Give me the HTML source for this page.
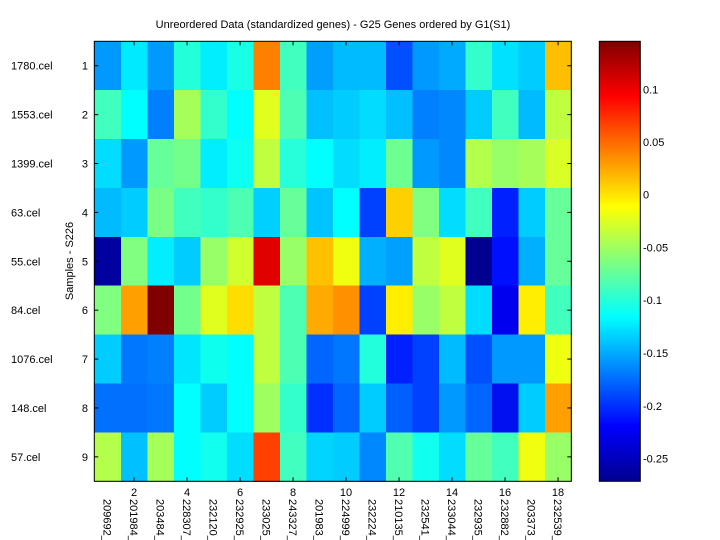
<!DOCTYPE html>
<html><head><meta charset="utf-8"><style>
html,body{margin:0;padding:0;background:#fff;}
svg{display:block;font-family:"Liberation Sans",sans-serif;}
</style></head><body>
<svg width="720" height="540" xmlns="http://www.w3.org/2000/svg">
<defs>
<linearGradient id="jet" x1="0" y1="1" x2="0" y2="0">
<stop offset="0" stop-color="#00008f"/>
<stop offset="0.125" stop-color="#0000ff"/>
<stop offset="0.375" stop-color="#00ffff"/>
<stop offset="0.625" stop-color="#ffff00"/>
<stop offset="0.875" stop-color="#ff0000"/>
<stop offset="1" stop-color="#800000"/>
</linearGradient>
</defs>
<rect width="720" height="540" fill="#fff"/>
<g id="cells" shape-rendering="crispEdges"></g>
<rect x="94.3" y="41.3" width="477" height="440" fill="none" stroke="#000" stroke-width="1"/>
<g id="ticks" stroke="#000" stroke-width="1"></g>
<g id="txt" font-size="11" fill="#000"></g>
<text x="333" y="28" font-size="11" text-anchor="middle">Unreordered Data (standardized genes) - G25 Genes ordered by G1(S1)</text>
<text transform="translate(73,261) rotate(-90)" font-size="11" text-anchor="middle">Samples - S226</text>
<rect x="599.3" y="41.3" width="41" height="440" fill="url(#jet)" stroke="#000" stroke-width="1"/>
<g id="cb" font-size="11"></g>
</svg>
<script>
var C=[
["#0099ff","#00eaff","#0099ff","#22ffd9","#00eeff","#19ffe6","#ff8000","#40ffbf","#009fff","#00bbff","#00bbff","#0050ff","#0099ff","#00aaff","#33ffcc","#00e0ff","#00ccff","#ffbf00"],
["#40ffbf","#00ffff","#0080ff","#a6ff59","#33ffcc","#00ffff","#e0ff1f","#4cffb3","#00c0ff","#00ccff","#00ddff","#00c0ff","#0080ff","#0088ff","#00ccff","#40ffbf","#00bbff","#c0ff40"],
["#00ddff","#0099ff","#66ff99","#73ff8c","#00eeff","#0dfff2","#c0ff40","#26ffd9","#00ffff","#00ddff","#00eeff","#6dff92","#0099ff","#0088ff","#b3ff4c","#99ff66","#a6ff59","#d9ff26"],
["#00bbff","#00ccff","#7aff85","#40ffbf","#33ffcc","#4cffb3","#00d0ff","#66ff99","#00c4ff","#00ffff","#0040ff","#ffd000","#80ff80","#00ddff","#40ffbf","#0020ff","#00ccff","#66ff99"],
["#0000a0","#80ff80","#00eeff","#00ccff","#99ff66","#d0ff2f","#e00000","#99ff66","#ffc000","#f0ff10","#00b0ff","#00a0ff","#c0ff40","#e0ff1f","#000090","#0010ff","#00b0ff","#66ff99"],
["#80ff80","#ffa000","#800000","#73ff8c","#e0ff1f","#ffdd00","#c0ff40","#4cffb3","#ffaa00","#ff9000","#0040ff","#ffee00","#99ff66","#c0ff40","#00ddff","#0000ee","#ffee00","#40ffbf"],
["#00ccff","#0077ff","#0080ff","#00e6ff","#0dffee","#00ffff","#c0ff40","#4cffb3","#0066ff","#0077ff","#22ffdd","#0020ff","#0040ff","#00bbff","#0050ff","#0099ff","#0099ff","#f0ff10"],
["#0070ff","#0070ff","#0077ff","#00ffff","#00ccff","#00ffff","#a0ff60","#33ffcc","#0030ff","#0066ff","#00ccff","#0060ff","#0040ff","#0099ff","#0066ff","#0010f0","#00ccff","#ffa000"],
["#b3ff4c","#00c0ff","#a6ff59","#00ffff","#11ffee","#00ddff","#ff4000","#40ffbf","#00d4ff","#00ccff","#0088ff","#50ffaf","#11ffee","#00ddff","#66ff99","#40ffbf","#f0ff10","#99ff66"]];
var NS="http://www.w3.org/2000/svg";
function el(p,t,a,tx){var e=document.createElementNS(NS,t);for(var k in a)e.setAttribute(k,a[k]);if(tx!=null)e.textContent=tx;p.appendChild(e);return e;}
var x0=94.3,y0=41.3,cw=477/18,rh=440/9;
var cells=document.getElementById('cells'),tk=document.getElementById('ticks'),tx=document.getElementById('txt'),cb=document.getElementById('cb');
for(var r=0;r<9;r++)for(var c=0;c<18;c++)el(cells,'rect',{x:x0+c*cw,y:y0+r*rh,width:cw+0.5,height:rh+0.5,fill:C[r][c]});
var rows=["1780.cel","1553.cel","1399.cel","63.cel","55.cel","84.cel","1076.cel","148.cel","57.cel"];
for(var r=0;r<9;r++){var y=y0+(r+0.5)*rh;
el(tk,'line',{x1:x0,y1:y,x2:x0+4,y2:y});el(tk,'line',{x1:x0+477,y1:y,x2:x0+473,y2:y});
el(tx,'text',{x:88,y:y+4,'text-anchor':'end'},String(r+1));
el(tx,'text',{x:11,y:y+4},rows[r]);}
var genes=["209692_","201984_","203484_","228307_","232120_","232925_","233025_","243327_","201983_","224999_","232224_","210135_","232541_","233044_","232935_","232882_","203373_","232539_"];
for(var c=0;c<18;c++){var x=x0+(c+0.5)*cw;
if(c%2==1){el(tk,'line',{x1:x,y1:y0+440,x2:x,y2:y0+436});el(tk,'line',{x1:x,y1:y0,x2:x,y2:y0+4});
el(tx,'text',{x:x,y:496,'text-anchor':'middle'},String(c+1));}
el(tx,'text',{transform:'translate('+(x-4)+',499) rotate(90)'},genes[c]);}
var tv=[["0.1",89.3],["0.05",142],["0",194.7],["-0.05",247.3],["-0.1",299.8],["-0.15",352.8],["-0.2",405.8],["-0.25",458.7]];
tv.forEach(function(t){el(tk,'line',{x1:599.3,y1:t[1],x2:603,y2:t[1]});el(tk,'line',{x1:640.3,y1:t[1],x2:636.5,y2:t[1]});
el(cb,'text',{x:643,y:t[1]+4},t[0]);});
</script>
</body></html>
